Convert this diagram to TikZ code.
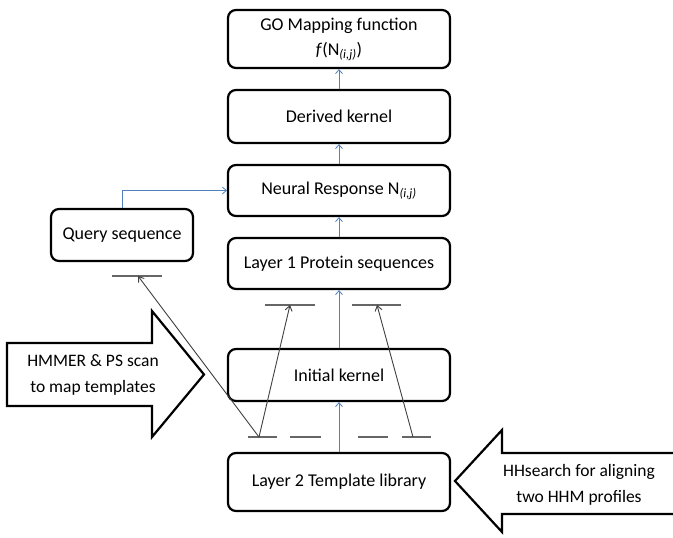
\documentclass[tikz,border=0pt]{standalone}
\usepackage{fontspec}
\setmainfont{Carlito}
\usetikzlibrary{arrows.meta}
\definecolor{lineblue}{RGB}{79,129,189}
\begin{document}
\begin{tikzpicture}[x=1pt,y=-1pt,
  box/.style={draw=black,line width=2.2pt,rounded corners=8pt,fill=white,
    minimum width=222pt,inner sep=2pt,align=center,font=\fontsize{18}{22}\selectfont},
  blueline/.style={draw=lineblue,line width=0.8pt,-{Straight Barb[length=4pt,width=7pt]}},
  grayline/.style={draw=black!75,line width=0.9pt,-{Straight Barb[length=5pt,width=7pt]}},
  bar/.style={draw=black!60,line width=1.1pt},
  bigarrow/.style={draw=black,line width=2.2pt,fill=white,line join=miter},
  lbl/.style={align=center,font=\fontsize{17.5}{26}\selectfont}]
\useasboundingbox (0,0) rectangle (673,538);
\fill[white] (0,0) rectangle (673,538);

% main boxes
\node[box,minimum height=58pt,font=\fontsize{18}{25}\selectfont] (go) at (339,39) {GO Mapping function\\\textit{f}(N\textsubscript{\textit{(i,j)}})};
\node[box,minimum height=53pt] (derived) at (339,116.5) {Derived kernel};
\node[box,minimum height=51pt] (neural) at (339,190.5) {Neural Response N\textsubscript{\textit{(i,j)}}};
\node[box,minimum height=51pt] (layer1) at (339,263.5) {Layer 1 Protein sequences};
\node[box,minimum height=52pt,minimum width=142pt] (query) at (122,235) {Query sequence};
\node[box,minimum height=52pt] (initial) at (339,375) {Initial kernel};
\node[box,minimum height=58pt] (layer2) at (339,482) {Layer 2 Template library};

% blue connectors
\draw[blueline] (derived.north) -- (go.south);
\draw[blueline] (neural.north) -- (derived.south);
\draw[blueline] (layer1.north) -- (neural.south);
\draw[blueline] (initial.north) -- (layer1.south);
\draw[blueline] (layer2.north) -- (initial.south);
\draw[blueline] (query.north) |- (neural.west);

% bars
\coordinate (qtip) at (138,276);
\coordinate (ltip) at (290,305);
\coordinate (rtip) at (377,305);
\coordinate (bl) at (259,437);
\coordinate (br) at (413,437);
\draw[bar] (112,276) -- (162,276);
\draw[bar] (265,305) -- (315,305);
\draw[bar] (352,305) -- (401,305);
\draw[bar] (248,437) -- (277,437);
\draw[bar] (290,437) -- (321,437);
\draw[bar] (358,437) -- (388,437);
\draw[bar] (402,437) -- (431,437);

% gray connectors
\draw[grayline] (bl) -- (qtip);
\draw[grayline] (bl) -- (ltip);
\draw[grayline] (br) -- (rtip);

% left block arrow
\draw[bigarrow] (7,343) -- (152,343) -- (152,311) -- (204,374.5) -- (152,437) -- (152,406) -- (7,406) -- cycle;
\node[lbl] (hmmer) at (93,375) {HMMER \& PS scan\\to map templates};

% right block arrow
\begin{scope}
\clip (0,0) rectangle (673,538);
\draw[bigarrow] (680,453) -- (502,453) -- (502,430) -- (455,481) -- (502,532) -- (502,514) -- (680,514);
\end{scope}
\node[lbl] (hhsearch) at (579,485) {HHsearch for aligning\\two HHM profiles};
\end{tikzpicture}
\end{document}
